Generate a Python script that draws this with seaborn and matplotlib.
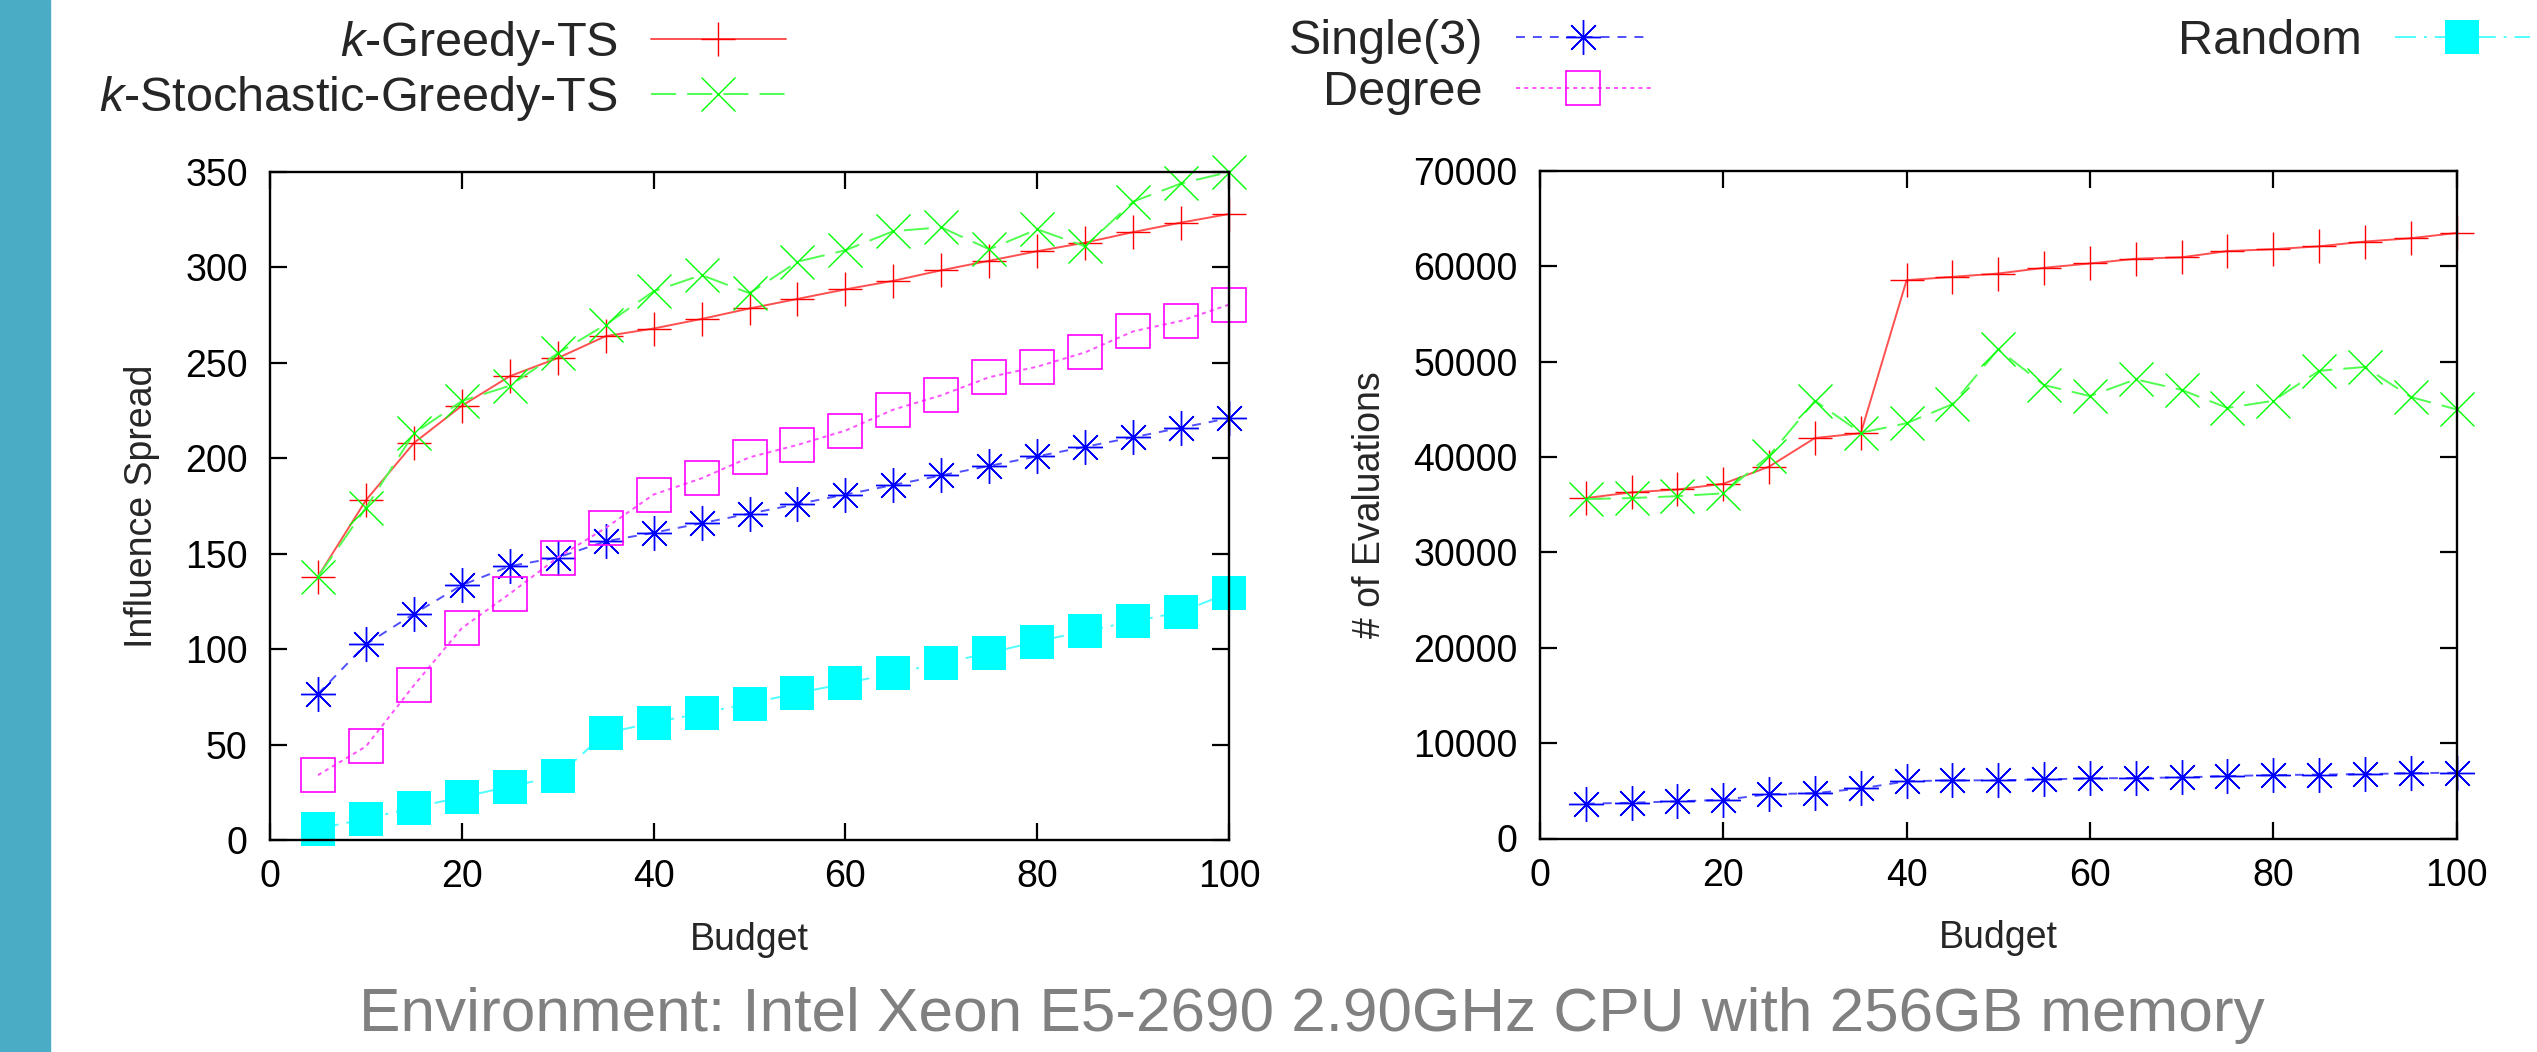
import numpy as np
import matplotlib
matplotlib.use("Agg")
import matplotlib.pyplot as plt
import seaborn as sns
from matplotlib.patches import Rectangle

# data
budget = np.arange(5, 101, 5)

spread_greedy = [138, 178, 208, 227.5, 243, 252.5, 264, 268, 273, 278.5,
                 283.5, 288.5, 293, 298.5, 303.5, 308.5, 313, 318.5, 323.5, 328]
spread_stoch = [138, 174, 213, 230, 238, 255, 270, 287.5, 296, 286.5,
                303, 309, 319, 321, 309.5, 320, 311, 334.5, 344, 350]
spread_single = [76.5, 102.5, 118.5, 133.5, 143.5, 148, 156.5, 161, 166, 171,
                 176, 181, 186, 191, 196, 201, 206, 211, 216, 221]
spread_degree = [34, 49, 81, 111, 129, 148, 163.5, 181, 189.5, 200.5,
                 207, 214.5, 225.5, 233, 242.5, 248, 255.5, 266.5, 272, 280.5]
spread_random = [6, 11, 17, 22.5, 28, 33.5, 56, 61.5, 66.5, 71.5,
                 77, 82, 87.5, 92.5, 98, 104, 109.5, 114.5, 119.5, 129.5]

evals_greedy = [35700, 36300, 36600, 37200, 39000, 42000, 42500, 58550, 58900, 59250,
                59850, 60300, 60800, 60950, 61600, 61800, 62100, 62600, 62950, 63500]
evals_stoch = [35600, 35700, 35900, 36200, 40150, 45900, 42550, 43550, 45550, 51300,
               47550, 46400, 48150, 47050, 45150, 45900, 49050, 49450, 46300, 45000]
evals_single = [3650, 3750, 3900, 4050, 4650, 4750, 5250, 6000, 6100, 6100,
                6200, 6300, 6350, 6400, 6550, 6650, 6700, 6750, 6850, 6900]

labels = ["$k$-Greedy-TS", "$k$-Stochastic-Greedy-TS", "Single(3)", "Degree", "Random"]

sns.set_theme(style="ticks")
plt.rcParams["font.family"] = ["Liberation Sans", "DejaVu Sans"]
plt.rcParams["mathtext.fontset"] = "custom"
plt.rcParams["mathtext.it"] = "Liberation Sans:italic"
plt.rcParams["mathtext.rm"] = "Liberation Sans"

W, H = 2537, 1052
fig = plt.figure(figsize=(W / 100, H / 100), dpi=100)
fig.patch.set_facecolor("white")
fig.patches.append(Rectangle((0, 0), 50 / W, 1, transform=fig.transFigure,
                             color="#4BACC6", zorder=0))

ax1 = fig.add_axes([270 / W, 1 - 840 / H, 959 / W, 668 / H])
ax2 = fig.add_axes([1540 / W, 1 - 838.5 / H, 916.5 / W, 667.5 / H])

lw = 1.4
styles = {
    "greedy": dict(color="#ff5050", marker="+", markersize=24, markeredgewidth=1.0,
                   markeredgecolor="#ff0000", linestyle="-"),
    "stoch": dict(color="#50ff50", marker="x", markersize=24, markeredgewidth=1.0,
                  markeredgecolor="#00ff00", linestyle=(0, (12.9, 5.7))),
    "single": dict(color="#5050ff", marker=(8, 2, 0), markersize=25, markeredgewidth=1.0,
                   markeredgecolor="#0000ff", linestyle=(0, (4.6, 4.1))),
    "degree": dict(color="#ff50ff", marker="s", markersize=25, markeredgewidth=1.2,
                   markeredgecolor="#ff00ff", markerfacecolor="none",
                   linestyle=(0, (2.1, 2.1))),
    "random": dict(color="#50ffff", marker="s", markersize=25, markeredgewidth=0,
                   markeredgecolor="#00ffff", markerfacecolor="#00ffff",
                   linestyle=(0, (10.8, 4.1, 1.5, 4.1))),
}

left_series = [("greedy", spread_greedy), ("stoch", spread_stoch), ("single", spread_single),
               ("degree", spread_degree), ("random", spread_random)]
for (key, vals), lab in zip(left_series, labels):
    sns.lineplot(x=budget, y=vals, ax=ax1, label=lab, legend=False, linewidth=lw,
                 clip_on=False, **styles[key])

right_series = [("greedy", evals_greedy), ("stoch", evals_stoch), ("single", evals_single)]
for key, vals in right_series:
    sns.lineplot(x=budget, y=vals, ax=ax2, legend=False, linewidth=lw,
                 clip_on=False, **styles[key])

for ax in (ax1, ax2):
    ax.set_xlim(0, 100)
    ax.set_xticks(range(0, 101, 20))
    ax.tick_params(direction="in", length=12, width=1.6, top=True, right=True,
                   labelsize=27, colors="black")
    ax.tick_params(axis="x", pad=14)
    ax.tick_params(axis="y", pad=16)
    for sp in ax.spines.values():
        sp.set_visible(True)
        sp.set_linewidth(1.7)
        sp.set_color("black")
    ax.set_xlabel("Budget", fontsize=27, labelpad=19)

ax1.set_ylim(0, 350)
ax1.set_yticks(range(0, 351, 50))
ax1.set_ylabel("Influence Spread", fontsize=27, labelpad=18)
ax2.set_ylim(0, 70000)
ax2.set_yticks(range(0, 70001, 10000))
ax2.set_ylabel("# of Evaluations", fontsize=27, labelpad=18)

handles, labs = ax1.get_legend_handles_labels()
leg_kw = dict(loc="upper right", frameon=False, markerfirst=False, fontsize=35,
              handlelength=2.78, handletextpad=0.68, labelspacing=0.12,
              borderpad=0, borderaxespad=0)
groups = [(0, 2, 786), (2, 4, 1651), (4, 5, 2530)]
for i0, i1, xr in groups:
    fig.legend(handles[i0:i1], labs[i0:i1], bbox_to_anchor=(xr / W, 1 - 19 / H), **leg_kw)

fig.text(1312 / W, 1 - 1031 / H, "Environment: Intel Xeon E5-2690 2.90GHz CPU with 256GB memory",
         ha="center", va="baseline", fontsize=44.7, color="#808080")

fig.savefig("out.png", dpi=100)
